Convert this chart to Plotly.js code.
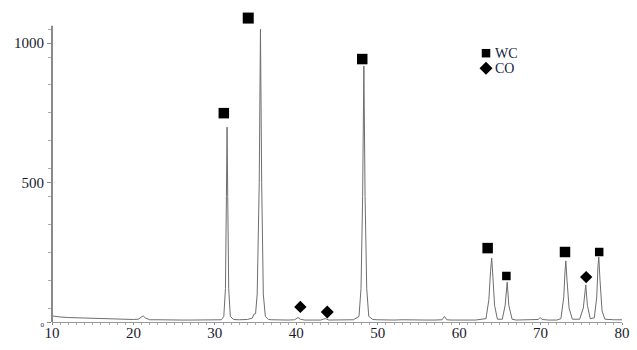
<!DOCTYPE html>
<html>
<head>
<meta charset="utf-8">
<script src="https://cdn.plot.ly/plotly-3.0.1.min.js"></script>
<style>html,body{margin:0;padding:0;background:#fff;}#chart{width:637px;height:350px;}</style>
</head>
<body>
<div id="chart"></div>
<script>
// XRD pattern: 2-theta (deg) and intensity (counts)
var twoTheta = [10,10.5,11,12,13,14,15,16,17,18,19,20,20.6,21.0,21.2,21.5,22,23,24,25,26,27,28,29,30,30.8,
  31.1,31.3,31.42,31.5,31.58,31.7,31.9,32.3,33,34,34.6,34.8,35.0,35.2,35.45,35.6,35.75,35.95,36.2,36.6,37,38,39,39.8,40.2,40.5,41,42,43,43.3,43.6,44,45,46,47,
  47.7,47.95,48.15,48.3,48.45,48.65,48.9,49.4,50,51,52,53,54,55,56,57,57.9,58.2,58.5,59,60,61,62,63.3,63.65,63.85,64.0,64.15,64.35,64.7,
  65.3,65.65,65.9,66.1,66.5,67,68,69,69.7,69.95,70.2,71,72,72.5,72.85,73.0,73.1,73.25,73.5,73.9,74.8,75.25,75.55,75.75,76.1,76.6,76.9,77.05,77.15,77.3,77.55,77.9,78.5,79,80];
var intensity = [22,19,18,16,15,13,12,11,11,10,10,9,10,18,22,14,8,8,7,8,7,7,7,7,7,8,
  20,120,450,699,450,120,20,9,8,9,14,28,30,100,500,1050,500,100,20,9,8,7,7,8,16,10,7,7,7,10,12,7,7,7,8,
  20,120,450,918,450,120,20,9,8,7,7,8,7,7,7,7,8,20,8,7,7,7,7,12,80,180,229,160,60,10,
  10,60,143,60,10,7,7,7,9,16,9,7,7,12,90,180,219,150,50,10,10,50,133,60,12,15,90,200,233,150,40,10,8,8,8];

// phase markers (peak labels)
var wcX = [31.1, 34.1, 48.1, 63.5, 65.8, 73.0, 77.2];
var wcY = [749, 1090, 943, 265, 165, 251, 251];
var coX = [40.5, 43.8, 75.6];
var coY = [54, 36, 161];
var wcSizes = [10.5, 11, 10.5, 10.5, 8.5, 10.5, 8.5];
var coSizes = [9.5, 10, 9.5];

// legend
var legendLabels = ['WC', 'CO'];
var legendX = 63.3;
var legendY = [964, 910];

var serif = 'Liberation Serif, Times New Roman, serif';
var yAxisTop = 1062;

var traces = [
  {x: twoTheta, y: intensity, type: 'scatter', mode: 'lines',
   line: {color: '#6e6e6e', width: 1}, hoverinfo: 'skip'},
  {x: wcX, y: wcY, type: 'scatter', mode: 'markers', cliponaxis: false,
   marker: {symbol: 'square', color: '#000', size: wcSizes, opacity: 1, line: {width: 0}}},
  {x: coX, y: coY, type: 'scatter', mode: 'markers', cliponaxis: false,
   marker: {symbol: 'diamond', color: '#000', size: coSizes, opacity: 1, line: {width: 0}}},
  {x: [legendX], y: [legendY[0]], type: 'scatter', mode: 'markers', cliponaxis: false,
   marker: {symbol: 'square', color: '#000', size: 8.5, opacity: 1}},
  {x: [legendX], y: [legendY[1]], type: 'scatter', mode: 'markers', cliponaxis: false,
   marker: {symbol: 'diamond', color: '#000', size: 10, opacity: 1}}
];

var layout = {
  width: 637, height: 350,
  margin: {l: 52, r: 15, t: 15, b: 28},
  paper_bgcolor: '#fff', plot_bgcolor: '#fff',
  showlegend: false,
  xaxis: {
    range: [10, 80], showgrid: false, zeroline: false,
    showline: true, linecolor: '#9a9a9a', linewidth: 1,
    tickvals: [10,20,30,40,50,60,70,80],
    ticks: 'outside', ticklen: 2, tickcolor: '#888',
    ticklabelstandoff: -5,
    minor: {dtick: 1, ticks: 'outside', ticklen: 2, tickcolor: '#aaa'},
    tickfont: {family: serif, size: 15, color: '#1a1a2e'}
  },
  yaxis: {
    range: [0, 1101], showgrid: false, zeroline: false,
    showline: false,
    tickvals: [0, 500, 1000],
    ticktext: ['<span style="font-size:7px">0</span>', '500', '1000'],
    ticks: 'outside', ticklen: 4, tickcolor: '#888',
    minor: {tick0: 50, dtick: 100, ticks: 'outside', ticklen: 3, tickcolor: '#aaa'},
    tickfont: {family: serif, size: 15, color: '#1a1a2e'}
  },
  shapes: [
    {type: 'line', xref: 'paper', yref: 'y', x0: 0, x1: 0, y0: 0, y1: yAxisTop,
     line: {color: '#8a8a8a', width: 2}}
  ],
  annotations: legendLabels.map(function (t, i) {
    return {x: legendX + 0.9, y: legendY[i], text: t, showarrow: false,
            xanchor: 'left', yanchor: 'middle',
            font: {family: serif, size: 14, color: '#1a1a40'}};
  })
};

Plotly.newPlot('chart', traces, layout, {displayModeBar: false, staticPlot: true});
</script>
</body>
</html>
